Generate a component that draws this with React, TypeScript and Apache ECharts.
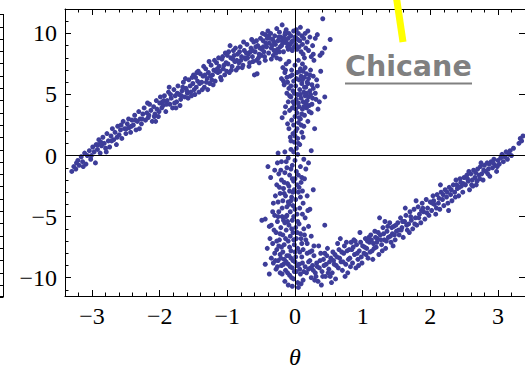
import React, { useEffect, useRef } from "react";
import * as echarts from "echarts";

// ---- tick values ----
const xMajorTicks = [-3, -2, -1, 0, 1, 2, 3];
const xMinorTicks = [-3.4, -3.2, -3, -2.8, -2.6, -2.4, -2.2, -2, -1.8, -1.6, -1.4, -1.2, -1, -0.8, -0.6, -0.4, -0.2, 0, 0.2, 0.4, 0.6, 0.8, 1, 1.2, 1.4, 1.6, 1.8, 2, 2.2, 2.4, 2.6, 2.8, 3, 3.2, 3.4];
const yMajorTicks = [-10, -5, 0, 5, 10];
const yMinorTicks = [-11, -10, -9, -8, -7, -6, -5, -4, -3, -2, -1, 0, 1, 2, 3, 4, 5, 6, 7, 8, 9, 10, 11, 12];
const xLabel = "θ";
const noteText = "Chicane";

// ---- data (theta, value) ----
const leftBranch: [number, number][] = [
  [-3.3,-1.3],[-3.27,-0.9],[-3.24,-1.1],[-3.21,-0.4],[-3.19,-0.8],[-3.16,-0.1],[-3.14,-0.5],[-3.11,0.2],[-3.09,-0.7],[-3.07,0.0],[-3.04,0.4],[-3.02,-0.3],[-2.99,0.7],[-2.97,0.3],[-2.95,-0.6],
  [-2.94,0.9],[-2.92,0.5],[-2.9,1.3],[-2.88,0.2],[-2.86,0.8],[-2.84,1.5],[-2.82,1.0],[-2.8,0.6],[-2.78,1.8],[-2.76,1.2],[-2.74,0.7],[-2.72,1.6],[-2.7,2.2],[-2.68,1.3],[-2.66,1.9],[-2.64,0.9],[-2.62,2.4],[-2.6,1.7],[-2.58,2.1],[-2.56,1.4],[-2.54,2.8],[-2.52,2.2],[-2.5,1.8],[-2.48,2.6],[-2.46,3.0],
  [-2.45,2.3],[-2.43,1.9],[-2.41,2.9],[-2.39,2.5],[-2.37,3.3],[-2.35,2.1],[-2.33,2.8],[-2.31,3.6],[-2.29,3.0],[-2.27,2.6],[-2.25,3.4],[-2.23,3.9],[-2.21,2.9],[-2.19,3.5],[-2.17,3.1],[-2.15,4.2],[-2.13,3.7],[-2.11,2.8],[-2.09,4.0],[-2.07,3.4],[-2.05,4.5],[-2.04,3.8],[-2.02,3.2],[-2.0,4.3],[-1.99,4.8],[-1.97,3.9],[-2.06,2.8],[-2.3,2.2],[-2.18,4.3],[-1.96,4.4],
  [-1.95,4.1],[-1.93,4.9],[-1.91,3.6],[-1.89,4.5],[-1.87,5.2],[-1.85,4.2],[-1.83,4.7],[-1.81,3.9],[-1.79,5.4],[-1.77,4.9],[-1.75,4.4],[-1.73,5.7],[-1.71,5.0],[-1.69,4.6],[-1.67,5.3],[-1.65,6.0],[-1.63,4.8],[-1.61,5.5],[-1.59,5.1],[-1.57,6.2],[-1.55,5.7],[-1.53,4.9],[-1.51,5.9],[-1.49,5.4],[-1.47,6.4],[-1.86,5.6],[-1.7,4.1],[-1.62,6.3],[-1.78,4.3],[-1.54,5.2],[-1.66,5.6],[-1.9,4.2],[-1.58,4.7],[-1.74,5.1],[-1.5,6.6],
  [-1.46,5.6],[-1.44,6.1],[-1.42,5.2],[-1.4,6.7],[-1.38,6.0],[-1.36,6.5],[-1.34,5.6],[-1.32,7.1],[-1.3,6.3],[-1.28,6.8],[-1.26,5.9],[-1.24,7.4],[-1.22,6.6],[-1.2,7.0],[-1.18,6.1],[-1.16,7.6],[-1.14,6.8],[-1.12,7.3],[-1.1,6.4],[-1.08,7.9],[-1.06,7.1],[-1.04,6.6],[-1.02,7.6],[-1.0,8.2],[-1.43,6.9],[-1.37,5.4],[-1.31,6.0],[-1.27,7.7],[-1.21,5.8],[-1.17,6.9],[-1.13,8.0],[-1.09,6.2],[-1.05,7.4],[-1.01,6.9],[-1.35,7.3],[-1.25,6.5],[-1.15,7.1],[-1.45,6.8],[-1.19,7.8],[-1.03,8.4],
  [-0.99,7.5],[-0.97,6.8],[-0.95,8.0],[-0.93,7.3],[-0.91,8.6],[-0.89,7.7],[-0.87,7.0],[-0.85,8.3],[-0.83,7.6],[-0.81,8.9],[-0.79,8.1],[-0.77,7.4],[-0.75,8.6],[-0.73,7.9],[-0.71,9.1],[-0.69,8.3],[-0.67,7.6],[-0.65,8.8],[-0.63,8.1],[-0.61,9.3],[-0.59,8.5],[-0.57,7.8],[-0.55,9.0],[-0.53,8.3],[-0.51,9.6],[-0.96,9.0],[-0.92,7.9],[-0.88,8.8],[-0.84,7.2],[-0.8,7.8],[-0.76,9.3],[-0.72,8.4],[-0.68,7.3],[-0.64,9.5],[-0.6,6.6],[-0.58,8.9],[-0.56,6.7],[-0.54,8.0],[-0.52,8.8],[-0.9,8.2],[-0.82,8.5],[-0.74,8.0],[-0.66,8.5],[-0.62,7.7],[-0.5,8.2],
];

const leftExtra: [number, number][] = [
  [-3.23,-0.6],[-3.13,-0.9],[-3.01,0.0],[-2.91,0.9],[-2.87,1.1],[-2.79,0.3],[-2.71,1.2],[-2.63,1.5],[-2.57,2.5],[-2.49,2.2],[-2.42,2.4],[-2.36,2.9],[-2.26,3.0],[-2.16,3.3],[-2.08,3.2],[-2.01,3.6],[-1.94,4.5],[-1.84,5.0],[-1.76,3.9],[-1.68,4.9],[-1.6,5.3],[-1.52,6.4],[-1.48,5.0],[-1.41,5.9],[-1.33,6.6],[-1.29,5.4],[-1.23,6.2],[-1.11,6.9],[-1.07,8.1],[-0.98,8.5],[-0.94,7.0],[-0.86,7.8],[-0.78,7.2],[-0.7,8.0],[-0.63,8.6],[-0.57,9.4],[-0.53,7.6],[-0.47,8.9],[-0.44,7.8],[-0.39,9.8],[-0.35,7.9],[-0.31,9.3],[-0.27,8.0],[-0.23,8.5],[-0.19,9.4],[-0.14,10.1],[-0.1,8.7],[-0.05,9.3],[-0.01,8.9],[0.02,9.6],
];

const topCluster: [number, number][] = [
  [-0.49,8.7],[-0.47,9.4],[-0.45,8.1],[-0.44,9.9],[-0.42,8.9],[-0.41,9.6],[-0.39,8.4],[-0.38,9.2],[-0.36,10.0],[-0.35,8.8],[-0.33,9.5],[-0.32,8.2],[-0.3,9.8],[-0.29,9.1],[-0.27,10.4],[-0.26,8.7],[-0.25,9.4],[-0.23,10.1],[-0.22,8.9],[-0.21,9.7],[-0.19,10.7],[-0.18,9.2],[-0.17,8.5],[-0.15,9.9],[-0.14,9.4],[-0.13,10.3],[-0.11,8.9],[-0.1,9.6],[-0.09,10.0],[-0.07,9.1],[-0.06,9.8],[-0.04,8.6],[-0.03,9.4],[-0.02,10.2],[-0.46,8.5],[-0.4,10.2],[-0.34,9.0],[-0.28,8.4],[-0.24,9.7],[-0.2,9.0],[-0.16,9.6],[-0.12,9.2],[-0.08,8.8],[-0.37,9.6],[-0.31,8.6],[-0.43,9.2],[-0.48,10.0],
  [0.0,9.7],[0.01,9.1],[0.02,10.3],[0.03,8.7],[0.04,9.5],[0.05,10.0],[0.06,8.9],[0.07,9.4],[0.08,10.5],[0.09,8.5],[0.1,9.8],[0.11,9.1],[0.12,8.3],[0.13,9.6],[0.15,10.0],[0.16,8.8],[0.18,9.3],[0.2,8.6],[0.22,9.7],[0.24,8.1],[0.27,8.3],[0.3,9.6],[0.33,9.9],[0.37,8.2],[0.41,11.2],[0.44,8.8],[0.52,9.5],[0.26,9.0],[0.19,10.2],[0.14,8.0],
];

const upperBand: [number, number][] = [
  [-0.22,7.9],[-0.2,6.3],[-0.18,7.2],[-0.16,5.8],[-0.15,6.8],[-0.13,7.5],[-0.12,5.1],[-0.11,6.0],[-0.1,4.4],[-0.09,5.5],[-0.08,3.7],[-0.07,6.5],[-0.06,4.8],[-0.05,2.9],[-0.05,7.0],[-0.04,3.9],[-0.03,1.8],[-0.03,5.3],[-0.02,2.5],[-0.02,6.1],[-0.01,1.1],[-0.01,4.2],[0.0,3.2],[0.0,7.4],[0.01,2.0],[0.01,5.7],[0.02,0.6],[0.02,4.6],[0.03,3.5],[0.03,6.8],[0.04,1.4],[0.04,5.0],[0.05,2.7],[0.05,7.8],[0.06,4.0],[0.06,6.2],[0.07,0.9],[0.07,5.4],[0.08,3.0],[0.08,7.1],[0.09,4.7],[0.09,6.5],[0.1,1.9],[0.1,5.9],[0.11,3.8],[0.11,7.5],[0.12,4.4],[0.12,6.9],[0.13,2.4],[0.13,5.2],[0.14,6.4],[0.14,3.3],[0.15,4.9],[0.15,7.2],[0.16,5.6],[0.17,3.9],[0.17,6.7],[0.18,4.5],[0.19,5.9],[0.19,2.8],[0.2,6.3],[0.21,4.1],[0.22,5.3],[0.23,7.0],[0.24,3.5],[0.25,5.8],[0.26,4.7],[0.27,6.5],[0.29,2.2],[0.3,5.1],[0.32,6.2],[0.34,3.8],[0.36,4.4],[0.4,8.4],[0.44,4.8],[0.38,6.9],[-0.14,4.0],[-0.19,3.1],[-0.07,1.5],[0.28,7.8],
  [-0.17,6.1],[-0.14,7.0],[-0.12,6.4],[-0.09,7.7],[-0.08,4.9],[-0.06,5.7],[-0.04,6.6],[-0.03,4.4],[-0.01,5.1],[0.01,3.8],[0.02,6.3],[0.03,2.2],[0.05,4.3],[0.06,3.1],[0.07,6.9],[0.08,5.0],[0.1,3.4],[0.11,6.2],[0.13,4.0],[0.14,5.6],[0.16,4.2],[0.17,5.1],[0.18,6.0],[0.2,4.8],[0.21,3.6],[0.22,6.6],[0.23,5.0],[0.25,4.2],[0.27,5.5],[0.31,4.6],[0.33,5.7],[-0.11,2.6],[-0.06,1.2],[-0.02,0.3],[0.05,1.0],[0.09,2.5],[0.12,1.5],[-0.15,3.5],[-0.09,2.2],[0.0,1.6],
];

const lowerBand: [number, number][] = [
  [-0.25,0.2],[-0.2,-0.5],[-0.15,0.3],[-0.12,-1.0],[-0.1,-0.2],[-0.08,-1.6],[-0.06,0.5],[-0.04,-0.8],[-0.02,-2.1],[0.0,-0.4],[0.02,-1.3],[0.04,0.1],[0.06,-2.6],[0.08,-0.9],[0.1,-1.8],[0.13,-0.3],[0.16,-1.1],[0.2,-0.6],[0.24,0.4],[-0.4,-0.9],
  [-0.27,-2.4],[-0.24,-1.5],[-0.22,-3.1],[-0.2,-2.0],[-0.18,-3.7],[-0.17,-2.7],[-0.15,-1.4],[-0.14,-3.3],[-0.12,-4.2],[-0.11,-2.3],[-0.1,-3.8],[-0.08,-2.9],[-0.07,-4.6],[-0.05,-3.4],[-0.04,-1.9],[-0.03,-4.1],[-0.01,-2.8],[0.01,-3.6],[0.03,-4.8],[0.05,-3.0],[0.07,-4.3],[0.09,-2.2],[0.12,-3.9],[0.15,-5.1],[0.18,-3.3],[0.22,-4.4],[0.27,-2.8],[-0.32,-3.9],[-0.36,-1.8],
  [-0.44,-5.2],[-0.49,-5.3],[-0.35,-5.7],[-0.3,-4.9],[-0.28,-6.3],[-0.26,-5.4],[-0.24,-4.6],[-0.23,-6.9],[-0.21,-5.9],[-0.19,-5.0],[-0.18,-6.5],[-0.16,-7.3],[-0.15,-5.5],[-0.13,-6.1],[-0.12,-4.9],[-0.1,-7.0],[-0.09,-5.7],[-0.07,-6.6],[-0.06,-7.8],[-0.04,-5.3],[-0.03,-6.3],[-0.01,-7.3],[0.01,-5.9],[0.02,-6.8],[0.04,-7.6],[0.06,-5.6],[0.08,-6.4],[0.1,-7.2],[0.13,-6.0],[0.16,-6.9],[0.2,-5.8],[0.24,-6.6],[0.28,-7.4],[-0.41,-7.6],[-0.37,-6.8],[-0.33,-7.2],
  [-0.3,-8.0],[-0.27,-7.7],[-0.25,-8.6],[-0.22,-8.1],[-0.2,-9.0],[-0.18,-7.9],[-0.16,-8.5],[-0.14,-9.4],[-0.12,-8.2],[-0.1,-8.9],[-0.08,-9.8],[-0.06,-8.4],[-0.04,-9.2],[-0.02,-10.1],[0.0,-8.7],[0.02,-9.5],[0.04,-10.4],[0.06,-8.9],[0.08,-9.7],[0.1,-8.3],[0.12,-10.2],[0.15,-9.1],[-0.15,-10.3],[-0.22,-9.6],[0.05,-10.8],[-0.28,-9.3],[0.18,-8.0],
  [-0.3,-1.2],[-0.26,-0.6],[-0.21,-1.2],[-0.16,-2.2],[-0.13,-0.5],[-0.09,-2.5],[-0.06,-1.1],[-0.03,-3.0],[0.0,-1.9],[0.03,-2.4],[0.05,-1.6],[0.11,-2.9],[0.14,-1.9],[-0.29,-3.3],[-0.25,-3.8],[-0.23,-2.6],[-0.19,-4.3],[-0.16,-3.1],[-0.13,-5.0],[-0.09,-4.0],[-0.06,-3.7],[-0.02,-5.0],[0.0,-4.4],[0.04,-5.4],[0.08,-3.4],[0.11,-4.8],[0.19,-4.5],[-0.33,-4.6],[-0.38,-5.8],[-0.31,-6.1],[-0.27,-7.0],[-0.25,-5.0],[-0.22,-6.4],[-0.2,-7.5],[-0.17,-5.3],[-0.14,-6.8],[-0.11,-5.4],[-0.08,-7.5],[-0.05,-6.0],[-0.02,-6.9],[0.0,-7.9],[0.03,-6.3],[0.07,-7.9],[0.09,-6.8],[0.12,-7.7],[0.14,-6.5],[0.18,-7.2],[0.22,-7.9],
  [-0.35,-8.4],[-0.32,-8.8],[-0.29,-8.6],[-0.26,-9.1],[-0.24,-7.4],[-0.21,-8.4],[-0.19,-9.7],[-0.17,-8.9],[-0.13,-8.7],[-0.11,-9.6],[-0.09,-8.2],[-0.07,-9.1],[-0.05,-10.0],[-0.03,-8.6],[-0.01,-9.5],[0.01,-8.3],[0.03,-9.0],[0.07,-9.3],[0.09,-10.5],[0.11,-8.8],[0.13,-9.5],[0.17,-9.6],[0.2,-8.7],[0.23,-9.2],[-0.1,-10.6],[-0.04,-10.7],[-0.44,-8.9],[-0.38,-9.7],
];

const rightBranch: [number, number][] = [
  [0.2,-9.3],[0.22,-8.6],[0.24,-10.0],[0.26,-9.0],[0.28,-8.2],[0.3,-9.6],[0.32,-8.8],[0.34,-10.3],[0.36,-9.2],[0.38,-8.0],[0.39,-10.6],[0.4,-9.5],[0.42,-8.5],[0.44,-5.7],[0.45,-9.9],[0.46,-8.9],[0.48,-7.6],[0.5,-9.3],[0.52,-9.9],[0.53,-8.4],[0.55,-9.6],[0.56,-7.9],[0.58,-8.9],[0.6,-10.1],[0.25,-7.8],[0.35,-7.4],[0.43,-9.0],[0.57,-8.6],[0.31,-9.9],[0.47,-8.2],
  [0.62,-8.3],[0.64,-9.2],[0.65,-7.7],[0.67,-6.8],[0.68,-8.7],[0.7,-9.4],[0.72,-8.0],[0.73,-7.4],[0.75,-8.9],[0.77,-7.8],[0.78,-9.6],[0.8,-7.7],[0.81,-8.4],[0.83,-7.1],[0.85,-8.8],[0.86,-7.5],[0.88,-8.1],[0.9,-9.2],[0.91,-7.3],[0.93,-8.5],[0.95,-7.8],[0.96,-6.3],[0.98,-8.3],[1.0,-7.4],[0.87,-6.9],[0.69,-7.9],
  [1.02,-8.0],[1.04,-6.8],[1.06,-7.6],[1.08,-8.4],[1.1,-7.1],[1.12,-6.5],[1.14,-7.8],[1.16,-7.2],[1.18,-6.2],[1.2,-7.5],[1.22,-6.8],[1.24,-8.1],[1.26,-6.5],[1.28,-7.3],[1.3,-5.9],[1.32,-6.9],[1.34,-7.6],[1.36,-6.2],[1.38,-6.7],[1.4,-5.5],[1.42,-7.1],[1.44,-6.4],[1.46,-5.8],[1.48,-6.9],[1.5,-6.2],[1.25,-5.1],[1.15,-8.5],[1.33,-5.4],[1.45,-7.4],[1.07,-7.0],
  [1.52,-5.5],[1.54,-6.5],[1.56,-5.1],[1.58,-5.9],[1.6,-6.7],[1.62,-5.4],[1.64,-4.9],[1.66,-6.1],[1.68,-5.6],[1.7,-4.6],[1.72,-5.3],[1.74,-6.0],[1.76,-4.4],[1.78,-5.1],[1.8,-5.7],[1.82,-4.2],[1.84,-4.8],[1.86,-5.5],[1.88,-3.9],[1.9,-4.6],[1.92,-5.2],[1.94,-3.6],[1.96,-4.3],[1.98,-4.9],[2.0,-3.8],[1.63,-4.3],[1.79,-3.7],[1.69,-6.3],[1.87,-4.5],[1.57,-6.1],
  [2.02,-4.5],[2.04,-3.3],[2.06,-4.0],[2.08,-4.8],[2.1,-3.2],[2.12,-3.9],[2.14,-4.4],[2.16,-3.0],[2.18,-3.6],[2.2,-4.1],[2.22,-2.8],[2.24,-3.4],[2.26,-3.9],[2.28,-2.6],[2.3,-3.2],[2.32,-3.7],[2.34,-2.4],[2.36,-3.0],[2.38,-2.0],[2.4,-2.7],[2.42,-3.3],[2.44,-1.9],[2.46,-2.5],[2.48,-3.0],[2.5,-1.8],[2.15,-2.4],[2.27,-4.5],[2.39,-2.4],[2.05,-3.7],[2.45,-2.2],
  [2.52,-2.4],[2.54,-1.6],[2.56,-2.1],[2.58,-2.8],[2.6,-1.5],[2.62,-2.0],[2.64,-1.2],[2.66,-1.8],[2.68,-2.4],[2.7,-1.1],[2.72,-1.6],[2.74,-0.9],[2.76,-1.5],[2.78,-2.0],[2.8,-0.8],[2.82,-1.3],[2.84,-0.6],[2.86,-1.1],[2.88,-1.7],[2.9,-0.5],[2.92,-1.0],[2.94,-0.3],[2.96,-0.8],[2.98,-1.3],[3.0,-0.4],[2.57,-1.3],[2.69,-2.1],[2.85,-1.5],[2.75,-0.6],[2.63,-2.5],
  [3.02,-0.7],[3.04,-0.2],[3.06,0.1],[3.08,-0.5],[3.1,-0.1],[3.12,0.3],[3.14,-0.3],[3.16,0.1],[3.18,0.4],[3.2,0.0],[3.23,0.6],[3.31,1.0],[3.33,1.4],[3.35,1.2],[3.37,1.6],
];

const rightExtra: [number, number][] = [
  [0.27,-9.4],[0.29,-10.2],[0.33,-9.1],[0.37,-8.6],[0.41,-9.9],[0.44,-8.0],[0.49,-9.6],[0.51,-8.7],[0.54,-10.4],[0.59,-8.1],[0.61,-9.0],[0.63,-7.2],[0.66,-8.4],[0.71,-8.7],[0.74,-9.9],[0.76,-7.1],[0.79,-8.5],[0.82,-9.1],[0.84,-7.7],[0.89,-7.0],[0.92,-8.0],[0.94,-9.0],[0.97,-7.1],[0.99,-8.8],[1.03,-7.5],[1.05,-8.1],[1.09,-6.7],[1.11,-7.9],[1.13,-6.9],[1.17,-7.6],[1.19,-6.7],[1.21,-7.1],[1.23,-6.3],[1.27,-6.9],[1.29,-7.8],[1.31,-6.4],[1.35,-7.0],[1.37,-5.8],[1.41,-6.6],[1.43,-5.9],[1.47,-6.5],[1.49,-5.7],[1.53,-6.1],[1.59,-5.4],[1.65,-5.7],[1.71,-5.0],[1.77,-5.6],[1.83,-5.1],[1.89,-4.3],[1.95,-4.7],[2.03,-3.9],[2.09,-4.3],[2.13,-3.5],[2.19,-3.2],[2.25,-3.0],[2.31,-2.8],[2.37,-3.4],[2.43,-2.6],[2.49,-2.3],[2.55,-1.9],[2.61,-2.4],[2.67,-1.4],[2.73,-1.9],[2.79,-1.2],[2.87,-0.7],[2.93,-0.6],[2.99,-0.9],
];

const allPoints = [...leftBranch, ...leftExtra, ...topCluster, ...upperBand, ...lowerBand, ...rightBranch, ...rightExtra];

const fmt = (v: number) => (v < 0 ? "\u2212" + Math.abs(v) : String(v));
const SERIF = "'Liberation Serif', 'Times New Roman', serif";

// decoration: the right-hand frame of a neighbouring plot, cut off at the left edge
function neighbourFrame() {
  const items: any[] = [
    { type: "line", shape: { x1: 3.5, y1: 14, x2: 3.5, y2: 297 }, style: { stroke: "#000", lineWidth: 1 } },
    { type: "line", shape: { x1: 0, y1: 14.5, x2: 3.5, y2: 14.5 }, style: { stroke: "#000", lineWidth: 1 } },
    { type: "line", shape: { x1: 0, y1: 296.5, x2: 3.5, y2: 296.5 }, style: { stroke: "#000", lineWidth: 1 } },
  ];
  for (let k = 0; k < 23; k++) {
    const y = Math.round(26.5 + k * 12.3) + 0.5;
    items.push({ type: "line", shape: { x1: 0, y1: y, x2: 3.5, y2: y }, style: { stroke: "#000", lineWidth: 1 } });
  }
  return items;
}

export default function App() {
  const ref = useRef<HTMLDivElement>(null);
  useEffect(() => {
    if (!ref.current) return;
    const chart = echarts.init(ref.current, undefined, { renderer: "svg" });
    const black = { color: "#000", width: 1 };
    const baseX = { type: "value" as const, min: -3.4, max: 3.4, splitLine: { show: false } };
    const baseY = { type: "value" as const, min: -11.5, max: 12, splitLine: { show: false } };
    chart.setOption({
      animation: false,
      backgroundColor: "#fff",
      grid: { left: 65, top: 9, width: 460, height: 287, outerBoundsMode: "none", containLabel: false },
      xAxis: [
        {
          ...baseX, position: "bottom",
          axisLine: { show: true, onZero: false, lineStyle: black },
          axisTick: { show: true, inside: true, length: 6, customValues: xMajorTicks, lineStyle: black },
          axisLabel: { show: true, customValues: xMajorTicks, formatter: fmt, fontFamily: SERIF, fontSize: 24, color: "#000", margin: 8 },
          name: xLabel, nameLocation: "middle", nameGap: 51,
          nameTextStyle: { fontFamily: SERIF, fontStyle: "italic", fontSize: 24, lineHeight: 20, color: "#000" },
        },
        {
          ...baseX, position: "bottom",
          axisLine: { show: false, onZero: false },
          axisTick: { show: true, inside: true, length: 3.5, customValues: xMinorTicks, lineStyle: black },
          axisLabel: { show: false },
        },
        {
          ...baseX, position: "top",
          axisLine: { show: true, onZero: false, lineStyle: black },
          axisTick: { show: true, inside: true, length: 6, customValues: xMajorTicks, lineStyle: black },
          axisLabel: { show: false },
        },
        {
          ...baseX, position: "top",
          axisLine: { show: false, onZero: false },
          axisTick: { show: true, inside: true, length: 3.5, customValues: xMinorTicks, lineStyle: black },
          axisLabel: { show: false },
        },
      ],
      yAxis: [
        {
          ...baseY, position: "left",
          axisLine: { show: true, onZero: false, lineStyle: black },
          axisTick: { show: true, inside: true, length: 6, customValues: yMajorTicks, lineStyle: black },
          axisLabel: { show: true, customValues: yMajorTicks, formatter: fmt, fontFamily: SERIF, fontSize: 24, color: "#000", margin: 8 },
        },
        {
          ...baseY, position: "left",
          axisLine: { show: false, onZero: false },
          axisTick: { show: true, inside: true, length: 3.5, customValues: yMinorTicks, lineStyle: black },
          axisLabel: { show: false },
        },
        {
          ...baseY, position: "right",
          axisLine: { show: true, onZero: false, lineStyle: black },
          axisTick: { show: true, inside: true, length: 6, customValues: yMajorTicks, lineStyle: black },
          axisLabel: { show: false },
        },
      ],
      series: [
        {
          type: "scatter",
          xAxisIndex: 0,
          yAxisIndex: 0,
          data: allPoints,
          symbol: "circle",
          symbolSize: 5,
          itemStyle: { color: "#3d3d99", opacity: 1 },
          emphasis: { disabled: true },
          silent: true,
          markLine: {
            silent: true,
            symbol: ["none", "none"],
            label: { show: false },
            lineStyle: { color: "#000", width: 1, type: "solid" },
            emphasis: { disabled: true },
            data: [{ xAxis: 0 }, { yAxis: 0 }],
          },
        },
      ],
      graphic: [
        ...neighbourFrame(),
        {
          type: "line",
          shape: { x1: 396.5, y1: -2, x2: 403, y2: 42 },
          style: { stroke: "#ffff00", lineWidth: 7 },
          z: 100,
        },
        {
          type: "text",
          x: 345,
          y: 81,
          style: {
            text: noteText,
            fill: "#808080",
            font: "bold 28.5px 'DejaVu Sans', Verdana, sans-serif",
            textVerticalAlign: "bottom",
            verticalAlign: "alphabetic",
          } as any,
          z: 100,
        },
        {
          type: "line",
          shape: { x1: 345, y1: 83.5, x2: 472, y2: 83.5 },
          style: { stroke: "#808080", lineWidth: 2 },
          z: 100,
        },
      ],
    });
    return () => chart.dispose();
  }, []);
  return (
    <div
      ref={ref}
      style={{ position: "fixed", left: 0, top: 0, width: 525, height: 369, background: "#fff" }}
    />
  );
}
